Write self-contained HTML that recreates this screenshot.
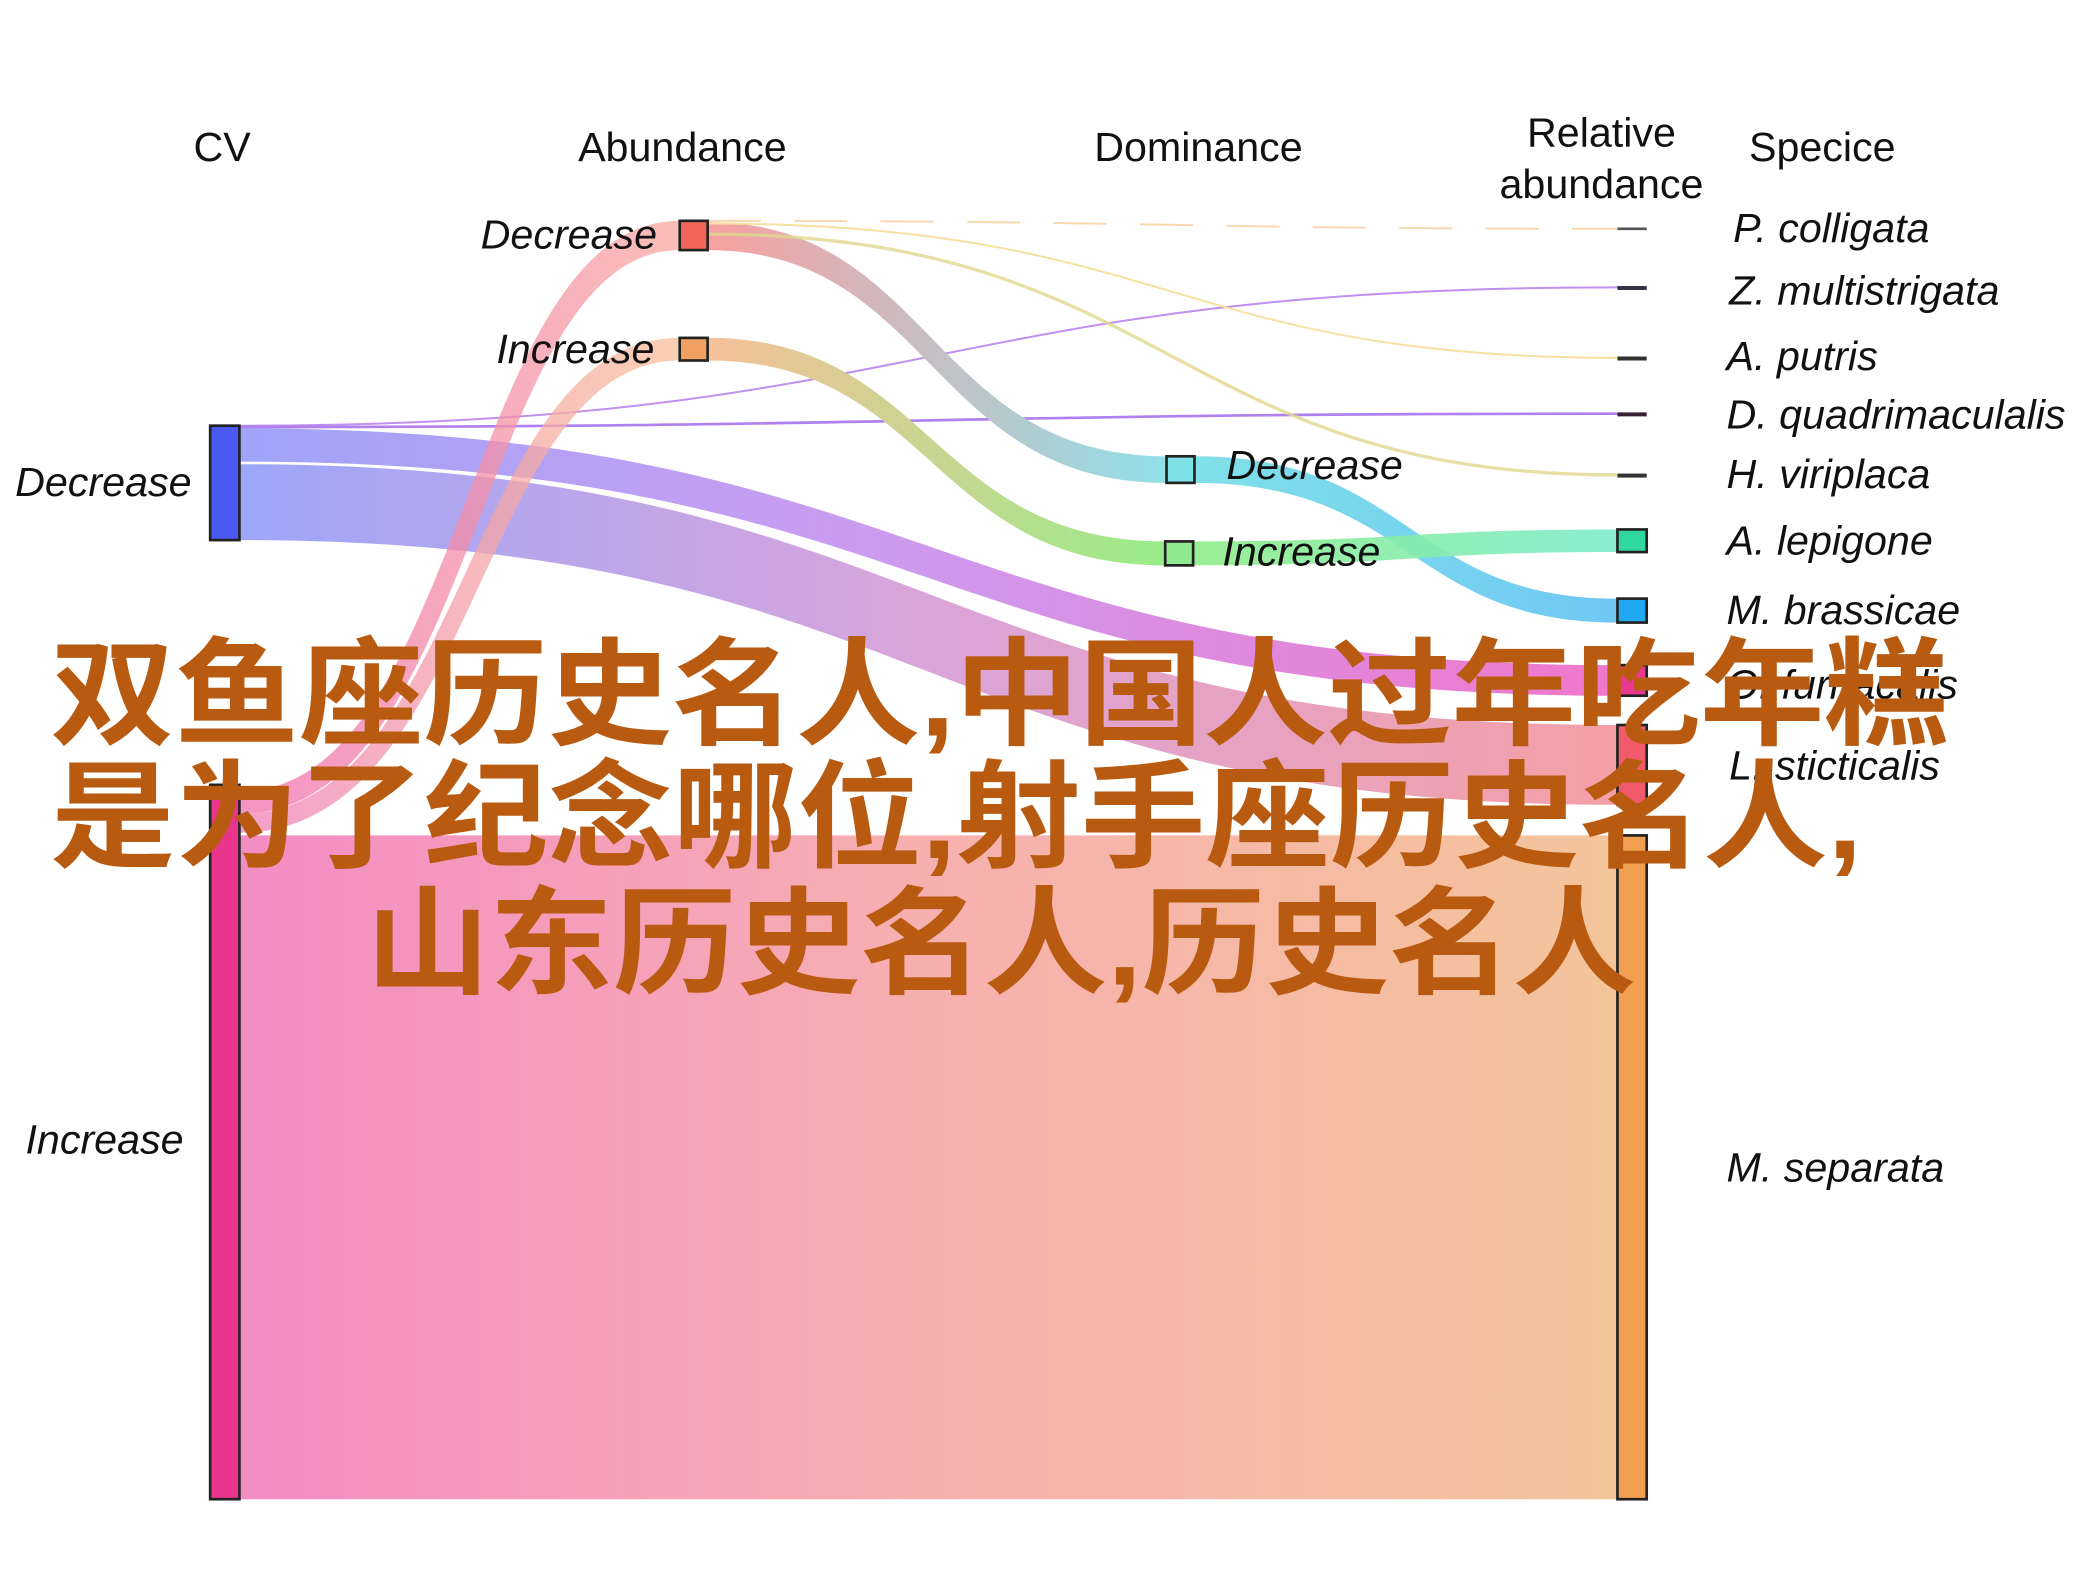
<!DOCTYPE html>
<html><head><meta charset="utf-8"><style>
html,body{margin:0;padding:0;background:#fff;}
svg{display:block;}
text{font-family:"Liberation Sans","Noto Sans CJK SC",sans-serif;}
</style></head><body>
<svg width="2079" height="1591" viewBox="0 0 1563 1196" preserveAspectRatio="none" xmlns="http://www.w3.org/2000/svg">
<defs>
<linearGradient id="gBig" x1="0" x2="1"><stop offset="0" stop-color="#f48cc4"/><stop offset="0.5" stop-color="#f7b0b0"/><stop offset="1" stop-color="#f4c49a"/></linearGradient>
<linearGradient id="gFur" x1="0" x2="1"><stop offset="0" stop-color="#9aa0f8"/><stop offset="0.45" stop-color="#c897f0"/><stop offset="1" stop-color="#f070c8"/></linearGradient>
<linearGradient id="gSti" x1="0" x2="1"><stop offset="0" stop-color="#98a2f8"/><stop offset="0.5" stop-color="#d8a0d8"/><stop offset="1" stop-color="#f49aa0"/></linearGradient>
<linearGradient id="gAD" x1="0" x2="1"><stop offset="0" stop-color="#f8a0a0"/><stop offset="1" stop-color="#90e0e8"/></linearGradient>
<linearGradient id="gAI" x1="0" x2="1"><stop offset="0" stop-color="#f6c09a"/><stop offset="1" stop-color="#98ec88"/></linearGradient>
<linearGradient id="gDD" x1="0" x2="1"><stop offset="0" stop-color="#80e0e8"/><stop offset="1" stop-color="#70c8f4"/></linearGradient>
<linearGradient id="gDI" x1="0" x2="1"><stop offset="0" stop-color="#90ec88"/><stop offset="1" stop-color="#7ceccc"/></linearGradient>
<linearGradient id="gCI" x1="0" x2="1"><stop offset="0" stop-color="#f070b0"/><stop offset="1" stop-color="#f8a8a0"/></linearGradient>
<linearGradient id="gCI2" x1="0" x2="1"><stop offset="0" stop-color="#f080b8"/><stop offset="1" stop-color="#f8c09a"/></linearGradient>
</defs>

<path d="M180 628 L1216 628 L1216 1127 L180 1127 Z" fill="url(#gBig)"/>
<path d="M180 322 C700 322 700 500 1216 500 L1216 523 C700 523 700 347 180 347 Z" fill="url(#gFur)" opacity="0.95"/>
<path d="M180 349 C700 349 700 545 1216 545 L1216 605 C700 605 700 406 180 406 Z" fill="url(#gSti)" opacity="0.95"/>
<path d="M180 320 C700 320 700 216 1216 216" fill="none" stroke="#c090f0" stroke-width="1.5"/>
<path d="M180 321 C700 321 700 311 1216 311" fill="none" stroke="#b080f0" stroke-width="2"/>
<path d="M180 595 C350 595 350 166 511 166 L511 188 C360 188 360 612 180 612 Z" fill="url(#gCI)" opacity="0.75"/>
<path d="M180 612 C350 612 350 254 511 254 L511 271 C360 271 360 626 180 626 Z" fill="url(#gCI2)" opacity="0.75"/>
<path d="M532 167 C700 167 700 343 877 343 L877 363 C700 363 700 188 532 188 Z" fill="url(#gAD)"/>
<path d="M532 254 C700 254 700 407 876 407 L876 425 C700 425 700 271 532 271 Z" fill="url(#gAI)"/>
<path d="M532 166 C880 166 880 172 1216 172" fill="none" stroke="#f8d8b0" stroke-width="1.5" stroke-dasharray="40 25"/>
<path d="M532 168 C880 168 880 269 1216 269" fill="none" stroke="#f8e0a0" stroke-width="1.5"/>
<path d="M532 176 C880 176 880 357 1216 357" fill="none" stroke="#e0d890" stroke-width="2.5" opacity="0.8"/>
<path d="M898 343 C1060 343 1060 450 1216 450 L1216 468 C1060 468 1060 363 898 363 Z" fill="url(#gDD)"/>
<path d="M897 407 C1060 407 1060 398 1216 398 L1216 415 C1060 415 1060 425 897 425 Z" fill="url(#gDI)" opacity="0.9"/>

<rect x="158" y="320" width="22" height="86" fill="#4a5af0" stroke="#222" stroke-width="2"/>
<rect x="158" y="590" width="22" height="537" fill="#e8348a" stroke="#222" stroke-width="2"/>
<rect x="511" y="166" width="21" height="22" fill="#f0645a" stroke="#222" stroke-width="2"/>
<rect x="511" y="254" width="21" height="17" fill="#f0a060" stroke="#222" stroke-width="2"/>
<rect x="877" y="343" width="21" height="20" fill="#80e0e8" stroke="#222" stroke-width="2"/>
<rect x="876" y="407" width="21" height="18" fill="#90e890" stroke="#222" stroke-width="2"/>
<rect x="1216" y="171" width="22" height="2" fill="#555"/>
<rect x="1216" y="215" width="22" height="3" fill="#334"/>
<rect x="1216" y="268" width="22" height="3" fill="#333"/>
<rect x="1216" y="310" width="22" height="3" fill="#323"/>
<rect x="1216" y="356" width="22" height="3" fill="#333"/>
<rect x="1216" y="398" width="22" height="17" fill="#30d8a0" stroke="#222" stroke-width="2"/>
<rect x="1216" y="450" width="22" height="18" fill="#20a8f0" stroke="#222" stroke-width="2"/>
<rect x="1216" y="500" width="22" height="23" fill="#e83890" stroke="#222" stroke-width="2"/>
<rect x="1216" y="545" width="22" height="60" fill="#f05a6a" stroke="#222" stroke-width="2"/>
<rect x="1216" y="628" width="22" height="499" fill="#f0a050" stroke="#222" stroke-width="2"/>

<g font-size="31" fill="#111" text-anchor="middle">
<text x="167" y="121">CV</text>
<text x="513" y="121">Abundance</text>
<text x="901" y="121">Dominance</text>
<text x="1204" y="110">Relative</text>
<text x="1204" y="149">abundance</text>
<text x="1370" y="121">Specice</text>
</g>
<g font-size="31" fill="#111" font-style="italic">
<text x="144" y="373" text-anchor="end">Decrease</text>
<text x="138" y="867" text-anchor="end">Increase</text>
<text x="494" y="187" text-anchor="end">Decrease</text>
<text x="492" y="273" text-anchor="end">Increase</text>
<text x="922" y="360">Decrease</text>
<text x="919" y="425">Increase</text>
<text x="1303" y="182">P. colligata</text>
<text x="1300" y="229">Z. multistrigata</text>
<text x="1298" y="278">A. putris</text>
<text x="1298" y="322">D. quadrimaculalis</text>
<text x="1298" y="367">H. viriplaca</text>
<text x="1298" y="417">A. lepigone</text>
<text x="1298" y="469">M. brassicae</text>
<text x="1298" y="525">O. furnacalis</text>
<text x="1300" y="586">L. sticticalis</text>
<text x="1298" y="888">M. separata</text>
</g>

<g font-size="88" font-weight="bold" fill="#b85a10">
<text x="38" y="553" textLength="1427" lengthAdjust="spacingAndGlyphs">双鱼座历史名人,中国人过年吃年糕</text>
<text x="38" y="645" textLength="1362" lengthAdjust="spacingAndGlyphs">是为了纪念哪位,射手座历史名人,</text>
<text x="275" y="740" textLength="955" lengthAdjust="spacingAndGlyphs">山东历史名人,历史名人</text>
</g>
</svg>
</body></html>
